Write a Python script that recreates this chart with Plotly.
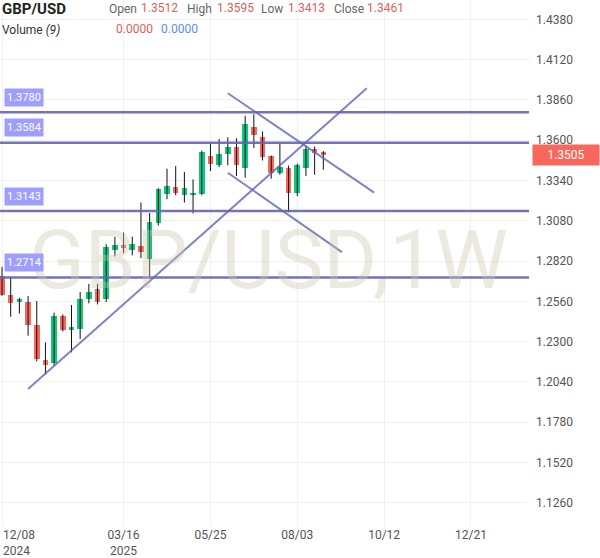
import plotly.graph_objects as go
import pandas as pd

# ---- data ----
start_date = "2024-12-08"
opens = [1.2726,1.2604,1.2556,1.2557,1.2408,1.2184,1.2160,1.2466,1.2378,1.2384,1.2572,1.2641,1.2572,1.2893,1.2923,1.2893,1.2918,1.2835,1.3064,1.3251,1.3299,1.3245,1.3245,1.3251,1.3501,1.3442,1.3512,1.3555,1.3420,1.3687,1.3623,1.3495,1.3390,1.3422,1.3262,1.3422,1.3544,1.3525]
highs = [1.2782,1.2716,1.2583,1.2594,1.2562,1.2295,1.2487,1.2476,1.2536,1.2620,1.2673,1.2673,1.2929,1.2976,1.3004,1.2978,1.3198,1.3130,1.3290,1.3416,1.3433,1.3395,1.3347,1.3533,1.3576,1.3608,1.3619,1.3613,1.3757,1.3768,1.3657,1.3501,1.3580,1.3437,1.3448,1.3565,1.3559,1.3530]
lows = [1.2596,1.2460,1.2481,1.2338,1.2173,1.2088,1.2146,1.2365,1.2231,1.2316,1.2547,1.2540,1.2556,1.2850,1.2871,1.2857,1.2839,1.2705,1.3049,1.3219,1.3245,1.3198,1.3128,1.3245,1.3401,1.3427,1.3437,1.3369,1.3358,1.3550,1.3469,1.3352,1.3377,1.3135,1.3238,1.3369,1.3377,1.3409]
closes = [1.2604,1.2551,1.2572,1.2406,1.2188,1.2149,1.2466,1.2374,1.2397,1.2577,1.2621,1.2556,1.2910,1.2923,1.2905,1.2929,1.2876,1.3070,1.3288,1.3305,1.3260,1.3294,1.3262,1.3527,1.3444,1.3512,1.3559,1.3437,1.3704,1.3634,1.3491,1.3390,1.3427,1.3262,1.3442,1.3544,1.3516,1.3505]

levels = [1.3780, 1.3584, 1.3143, 1.2714]
level_labels = ["1.3780", "1.3584", "1.3143", "1.2714"]

trend_x = [["2024-12-29", "2025-09-28"], ["2025-06-08", "2025-10-04"], ["2025-06-08", "2025-09-08"]]
trend_y = [[1.1994, 1.3935], [1.3903, 1.3262], [1.3390, 1.2878]]

ytick_vals = [1.1260,1.1520,1.1780,1.2040,1.2300,1.2560,1.2820,1.3080,1.3340,1.3600,1.3860,1.4120,1.4380]
xtick_dates = ["2024-12-08","2025-03-16","2025-05-25","2025-08-03","2025-10-12","2025-12-21"]
xtick_text = ["", "03/16<br>2025", "05/25", "08/03", "10/12", "12/21"]

last_price = 1.3505
hdr = {"Open": "1.3512", "High": "1.3595", "Low": "1.3413", "Close": "1.3461"}

# ---- figure ----
dates = pd.date_range(start_date, periods=len(opens), freq="7D")
GREEN = "#0fc77f"
RED = "#f7675c"
LINE = "rgba(100,100,175,0.9)"

fig = go.Figure()

wx, wy = [], []
for d, h, l in zip(dates, highs, lows):
    wx += [d, d, None]
    wy += [l, h, None]
fig.add_trace(go.Scatter(x=wx, y=wy, mode="lines", line=dict(color="#111", width=1),
                         hoverinfo="skip", showlegend=False))

base = [min(o, c) for o, c in zip(opens, closes)]
height = [max(abs(c - o), 0.0004) for o, c in zip(opens, closes)]
colors = [GREEN if c >= o else RED for o, c in zip(opens, closes)]
fig.add_trace(go.Bar(x=dates, y=height, base=base, marker=dict(color=colors, line=dict(width=0)),
                     width=4.5 * 86400000, showlegend=False))

for lv in levels:
    fig.add_shape(type="line", xref="paper", x0=0, x1=1, yref="y", y0=lv, y1=lv,
                  line=dict(color=LINE, width=2.5), layer="above")
for xs, ys in zip(trend_x, trend_y):
    fig.add_shape(type="line", xref="x", yref="y", x0=xs[0], x1=xs[1], y0=ys[0], y1=ys[1],
                  line=dict(color="rgba(100,100,180,0.8)", width=2), layer="above")

ann = []
# watermark
ann.append(dict(xref="paper", yref="paper", x=268/529, y=1-262/530, text="GBP/USD,1W",
                showarrow=False, font=dict(size=82, color="rgba(205,196,170,0.38)", family="Roboto"),
                xanchor="center", yanchor="middle"))

for lv, t in zip(levels, level_labels):
    ann.append(dict(xref="paper", x=0, xanchor="left", xshift=4, yref="y", y=lv, yshift=15,
                    text=t, showarrow=False, bgcolor="#9e9eff", borderpad=2,
                    font=dict(color="white", size=11, family="Roboto")))

# price tag
ann.append(dict(xref="paper", x=1, xanchor="left", xshift=3, yref="y", y=last_price,
                text="1.3505", showarrow=False, bgcolor=RED, borderpad=3, width=60,
                font=dict(color="white", size=12, family="Roboto")))

# first x label
ann.append(dict(xref="x", x=xtick_dates[0], xanchor="left", xshift=-1, yref="paper", y=0, yanchor="top",
                yshift=0, text="12/08<br>2024", showarrow=False, align="left",
                font=dict(color="#555", size=12, family="Roboto")))

# header
def px(xp): return xp / 529
def py(yp): return 1 - yp / 530
ann.append(dict(xref="paper", yref="paper", x=px(0), y=py(9), xanchor="left", yanchor="middle",
                text="<b>GBP/USD</b>", showarrow=False, font=dict(size=15, color="#222", family="Roboto")))
hx = {"Open": (107, 139), "High": (185, 215), "Low": (259, 286), "Close": (332, 365)}
for k, v in hdr.items():
    ann.append(dict(xref="paper", yref="paper", x=px(hx[k][0]), y=py(9), xanchor="left", yanchor="middle",
                    text=k, showarrow=False, font=dict(size=12, color="#666", family="Roboto")))
    ann.append(dict(xref="paper", yref="paper", x=px(hx[k][1]), y=py(8), xanchor="left", yanchor="middle",
                    text=v, showarrow=False, font=dict(size=12, color="#e0605a", family="Roboto")))
ann.append(dict(xref="paper", yref="paper", x=px(0), y=py(30), xanchor="left", yanchor="middle",
                text="Volume <i>(9)</i>", showarrow=False, font=dict(size=12, color="#333", family="Roboto")))
ann.append(dict(xref="paper", yref="paper", x=px(114), y=py(29), xanchor="left", yanchor="middle",
                text="0.0000", showarrow=False, font=dict(size=12, color="#e0605a", family="Roboto")))
ann.append(dict(xref="paper", yref="paper", x=px(159), y=py(29), xanchor="left", yanchor="middle",
                text="0.0000", showarrow=False, font=dict(size=12, color="#5b8def", family="Roboto")))

fig.update_layout(
    width=600, height=558, margin=dict(l=0, r=71, t=0, b=28),
    paper_bgcolor="white", plot_bgcolor="white", showlegend=False, bargap=0,
    annotations=ann,
    xaxis=dict(type="date", range=["2024-12-06 09:00", "2026-02-05 19:00"],
               tickvals=xtick_dates, ticktext=xtick_text, showgrid=True, gridcolor="#f0f0f0",
               zeroline=False, showline=False, ticks="", tickfont=dict(size=12, color="#555", family="Roboto"),
               fixedrange=True),
    yaxis=dict(side="right", range=[1.1110, 1.4505], tickvals=ytick_vals, tickformat=".4f",
               showgrid=True, gridcolor="#f0f0f0", zeroline=False, showline=False, ticks="",
               tickfont=dict(size=12, color="#555", family="Roboto"), ticklabelstandoff=6),
)

fig.write_html("out.html")
